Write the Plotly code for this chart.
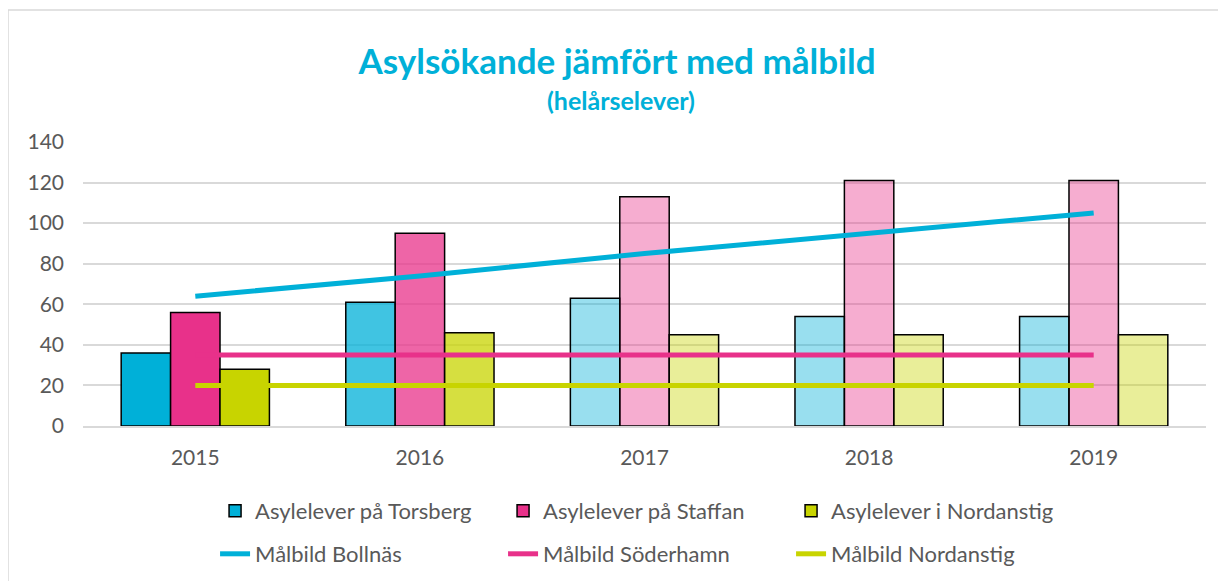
import plotly.graph_objects as go

# Data
years = ['2015', '2016', '2017', '2018', '2019']
torsberg = [36, 61, 63, 54, 54]
staffan = [56, 95, 113, 121, 121]
nordanstig = [28, 46, 45, 45, 45]
mal_bollnas = [64, 74, 85, 95, 105]
mal_soderhamn = [35, 35, 35, 35, 35]
mal_nordanstig = [20, 20, 20, 20, 20]

# Opacity per year (actual -> forecast)
alphas = [1.0, 0.75, 0.4, 0.4, 0.4]

cyan = (0, 176, 216)
pink = (232, 49, 138)
green = (200, 212, 0)


def rgba(c, a):
    return f'rgba({c[0]},{c[1]},{c[2]},{a})'


fig = go.Figure()

for name, vals, col in [('Asylelever på Torsberg', torsberg, cyan),
                        ('Asylelever på Staffan', staffan, pink),
                        ('Asylelever i Nordanstig', nordanstig, green)]:
    fig.add_trace(go.Bar(
        x=years, y=vals, name=name, legend='legend',
        marker=dict(color=[rgba(col, a) for a in alphas],
                    line=dict(color='black', width=1.5)),
    ))

for name, vals, col in [('Målbild Bollnäs', mal_bollnas, cyan),
                        ('Målbild Söderhamn', mal_soderhamn, pink),
                        ('Målbild Nordanstig', mal_nordanstig, green)]:
    fig.add_trace(go.Scatter(
        x=years, y=vals, name=name, mode='lines', legend='legend2',
        line=dict(color=rgba(col, 1), width=5),
    ))

# page body has an 8px margin, so the figure is sized/offset for it
W, H = 1218, 573
plot_h = 284

leg_common = dict(orientation='h', xref='container', yref='container',
                  xanchor='left', yanchor='middle', x=0.17,
                  entrywidth=243, font=dict(size=22, color='#595959'))

fig.update_layout(
    width=W, height=H,
    font=dict(family='Lato, Open Sans, sans-serif', color='#595959', size=21),
    paper_bgcolor='white', plot_bgcolor='white',
    margin=dict(l=75, r=20, t=134, b=155, autoexpand=False),
    barmode='group', bargap=0.34, bargroupgap=0,
    title=dict(
        text='<b>Asylsökande jämfört med målbild</b>',
        x=0.5, xanchor='center', y=1 - 54 / H, yanchor='middle',
        font=dict(size=35, color='#00B0D8'),
    ),
    legend=dict(y=1 - 503 / H, **leg_common),
    legend2=dict(y=1 - 546 / H, **leg_common),
    showlegend=True,
)

fig.add_annotation(text='<b>(helårselever)</b>', xref='paper', yref='paper',
                   x=0.479, y=1 + 42 / plot_h, xanchor='center', yanchor='middle',
                   showarrow=False, font=dict(size=25, color='#00B0D8'))

fig.update_yaxes(range=[0, 140], dtick=20, gridcolor='#d9d9d9', gridwidth=1.5,
                 zeroline=False, showline=False, ticks='', ticklabelstandoff=18,
                 automargin=False)
fig.update_xaxes(showgrid=False, showline=True, linecolor='#d9d9d9', linewidth=1.5,
                 ticks='', ticklabelstandoff=12, automargin=False)

# outer chart border
fig.add_shape(type='rect', xref='paper', yref='paper',
              x0=-75 / 1123, x1=1.2, y0=-1.0, y1=1 + 132 / plot_h,
              line=dict(color='#d9d9d9', width=1.5), layer='below')

fig.write_html('out.html')
